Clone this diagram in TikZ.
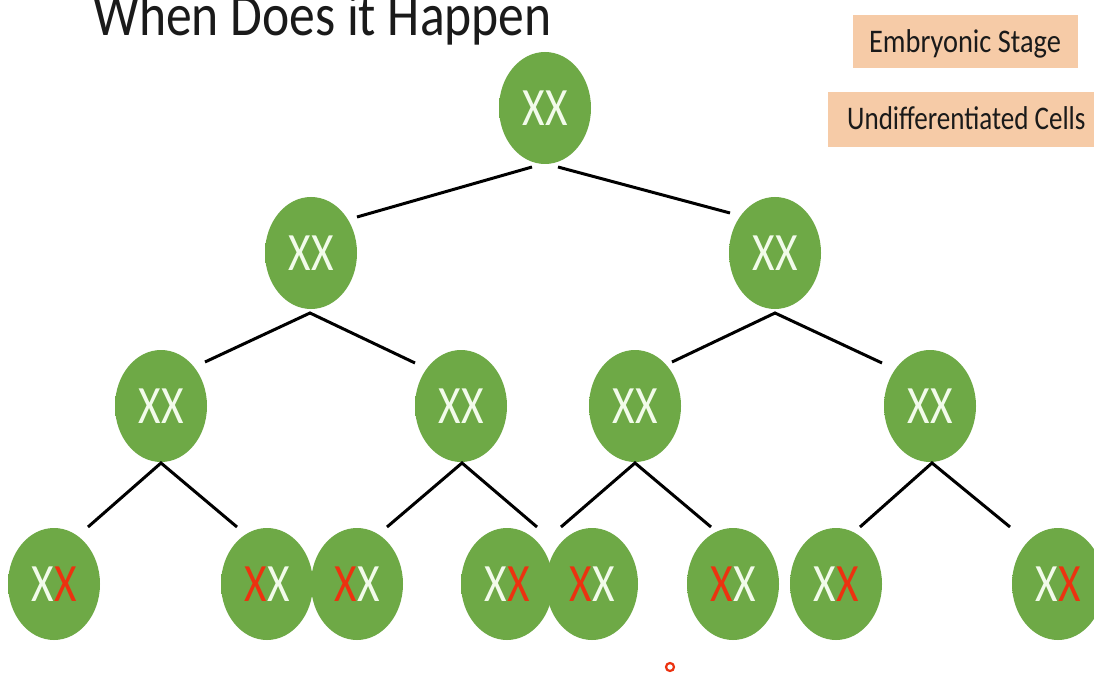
\documentclass[tikz,border=0pt]{standalone}
\usepackage{fontspec}
\setmainfont{Carlito}
\usetikzlibrary{shapes.geometric}
\definecolor{cellin}{HTML}{6EA946}
\definecolor{cellout}{HTML}{619A3D}
\definecolor{peach}{HTML}{F6CBA7}
\definecolor{xred}{HTML}{EC3210}
\definecolor{xwhite}{HTML}{F2FBEA}
\definecolor{ink}{HTML}{1A1A1A}
\pgfdeclareradialshading{cellshade}{\pgfpoint{0bp}{0bp}}{color(0bp)=(cellin); color(36bp)=(cellin); color(50bp)=(cellout)}
\newcommand{\xw}{\textcolor{xwhite}{X}}
\newcommand{\xr}{\textcolor{xred}{X}}
\newcommand{\xx}[1]{\scalebox{0.8}[1]{#1}}
\begin{document}
\begin{tikzpicture}[x=1pt,y=-1pt,
  cell/.style={ellipse, minimum width=92pt, minimum height=112pt, inner sep=0pt,
               shading=cellshade, font=\fontsize{54}{54}\selectfont},
  link/.style={line width=3pt, black},
  pbox/.style={fill=peach, inner sep=0pt, anchor=north west},
  ptext/.style={inner sep=0pt, text=ink, font=\fontsize{33}{33}\selectfont}]
\useasboundingbox (0,0) rectangle (1094,676);
\fill[white] (0,0) rectangle (1094,676);

% title
\node[anchor=base west, inner sep=0pt, text=ink, font=\fontsize{60}{60}\selectfont] (title) at (93,36)
  {\scalebox{0.86}[1]{When Does it Happen}};

% label boxes
\node[pbox, minimum width=225pt, minimum height=53pt] (b1) at (853,15) {};
\node[ptext, anchor=base] (t1) at (965,53) {\scalebox{0.86}[1]{Embryonic Stage}};
\node[pbox, minimum width=280pt, minimum height=55pt] (b2) at (828,92) {};
\node[ptext, anchor=base west] (t2) at (847,130) {\scalebox{0.82}[1]{Undifferentiated Cells}};

% cells
\node[cell] (n0) at (545,108) {\xx{\xw\xw}};
\node[cell] (n1) at (311,253) {\xx{\xw\xw}};
\node[cell] (n2) at (775,253) {\xx{\xw\xw}};
\node[cell] (n3) at (161,406) {\xx{\xw\xw}};
\node[cell] (n4) at (461,406) {\xx{\xw\xw}};
\node[cell] (n5) at (635,406) {\xx{\xw\xw}};
\node[cell] (n6) at (930,406) {\xx{\xw\xw}};
\node[cell] (n7)  at (54,584)   {\xx{\xw\xr}};
\node[cell] (n8)  at (267,584)  {\xx{\xr\xw}};
\node[cell] (n9)  at (357,584)  {\xx{\xr\xw}};
\node[cell] (n10) at (507,584)  {\xx{\xw\xr}};
\node[cell] (n11) at (592,584)  {\xx{\xr\xw}};
\node[cell] (n12) at (733,584)  {\xx{\xr\xw}};
\node[cell] (n13) at (836,584)  {\xx{\xw\xr}};
\node[cell] (n14) at (1058,584) {\xx{\xw\xr}};

% connector end points
\coordinate (s0a) at (532,167); \coordinate (s0b) at (558,167);
\coordinate (e1) at (357,217);  \coordinate (e2) at (730,213);
\coordinate (s1) at (310,313);  \coordinate (s2) at (775,313);
\coordinate (e3) at (205,362);  \coordinate (e4) at (415,363);
\coordinate (e5) at (672,362);  \coordinate (e6) at (882,363);
\coordinate (s3) at (161,463);  \coordinate (s4) at (462,463);
\coordinate (s5) at (635,463);  \coordinate (s6) at (932,463);
\coordinate (e7) at (88,527);   \coordinate (e8) at (237,527);
\coordinate (e9) at (387,527);  \coordinate (e10) at (537,527);
\coordinate (e11) at (561,527); \coordinate (e12) at (711,527);
\coordinate (e13) at (860,527); \coordinate (e14) at (1010,527);

\draw[link] (s0a) -- (e1);
\draw[link] (s0b) -- (e2);
\draw[link] (e3) -- (s1) -- (e4);
\draw[link] (e5) -- (s2) -- (e6);
\draw[link] (e7) -- (s3) -- (e8);
\draw[link] (e9) -- (s4) -- (e10);
\draw[link] (e11) -- (s5) -- (e12);
\draw[link] (e13) -- (s6) -- (e14);

% cursor mark
\node[circle, draw=xred, fill=white, line width=2.2pt, minimum size=8pt, inner sep=0pt] (cursor) at (670,667) {};
\end{tikzpicture}
\end{document}
